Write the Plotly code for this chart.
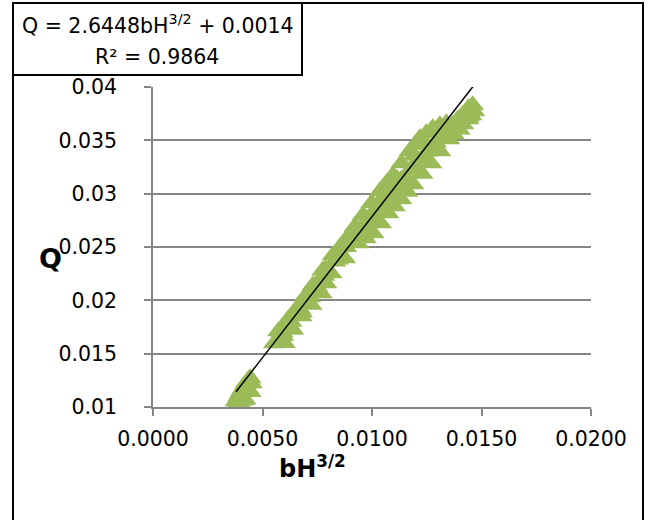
import plotly.graph_objects as go

# ---- data ----
bH32 = [
    # lower cluster
    0.00379, 0.00392, 0.00405, 0.00418, 0.00430, 0.00444, 0.00449, 0.00444, 0.00420, 0.00400,
    0.00386, 0.00398, 0.00411, 0.00424, 0.00437, 0.00432, 0.00410, 0.00390,
    # upper edge of main band
    0.00554, 0.00573, 0.00658, 0.00731, 0.00822, 0.00886, 0.00959, 0.01037, 0.01096, 0.01173,
    0.01219, 0.01278, 0.01310, 0.01378, 0.01460,
    0.00615, 0.00695, 0.00775, 0.00855, 0.00922, 0.00998, 0.01066, 0.01135, 0.01196, 0.01248,
    0.01340, 0.01420,
    # just inside the upper edge
    0.00593, 0.00678, 0.00751, 0.00842, 0.00906, 0.00979, 0.01057, 0.01116, 0.01193, 0.01239,
    0.01298, 0.01330, 0.01398, 0.01440,
    # middle of band
    0.00630, 0.00715, 0.00780, 0.00880, 0.00950, 0.01015, 0.01080, 0.01135, 0.01210, 0.01290,
    0.01340, 0.01400,
    0.00590, 0.00672, 0.00748, 0.00830, 0.00915, 0.00982, 0.01048, 0.01108, 0.01172, 0.01250,
    0.01315, 0.01370, 0.01430,
    # just inside the lower edge
    0.00575, 0.00651, 0.00743, 0.00788, 0.00911, 0.00980, 0.01048, 0.01107, 0.01162, 0.01244,
    0.01326, 0.01367, 0.01413, 0.01440,
    0.00613, 0.00697, 0.00765, 0.00850, 0.00945, 0.01014, 0.01077, 0.01135, 0.01203, 0.01285,
    0.01347, 0.01390,
    # lower edge of band
    0.00600, 0.00676, 0.00768, 0.00813, 0.00936, 0.01005, 0.01073, 0.01132, 0.01187, 0.01269,
    0.01351, 0.01392, 0.01438, 0.01465,
    0.00638, 0.00722, 0.00790, 0.00875, 0.00970, 0.01039, 0.01102, 0.01160, 0.01228, 0.01310,
    0.01372, 0.01415, 0.01452,
]
Q = [
    0.01053, 0.01100, 0.01150, 0.01195, 0.01240, 0.01270, 0.01222, 0.01140, 0.01070, 0.01030,
    0.01070, 0.01125, 0.01172, 0.01218, 0.01255, 0.01170, 0.01060, 0.01040,
    0.01597, 0.01709, 0.01925, 0.02141, 0.02422, 0.02581, 0.02797, 0.03022, 0.03172, 0.03397,
    0.03519, 0.03613, 0.03641, 0.03641, 0.03828,
    0.01815, 0.02035, 0.02280, 0.02500, 0.02690, 0.02910, 0.03097, 0.03285, 0.03458, 0.03566,
    0.03660, 0.03730,
    0.01669, 0.01885, 0.02101, 0.02382, 0.02541, 0.02757, 0.02982, 0.03132, 0.03357, 0.03479,
    0.03573, 0.03601, 0.03601, 0.03720,
    0.01800, 0.02030, 0.02230, 0.02500, 0.02640, 0.02850, 0.02990, 0.03130, 0.03310, 0.03480,
    0.03560, 0.03700,
    0.01700, 0.01915, 0.02130, 0.02365, 0.02570, 0.02745, 0.02920, 0.03060, 0.03220, 0.03395,
    0.03520, 0.03630, 0.03760,
    0.01640, 0.01890, 0.02106, 0.02293, 0.02575, 0.02668, 0.02856, 0.02987, 0.03128, 0.03325,
    0.03550, 0.03643, 0.03737, 0.03800,
    0.01765, 0.01998, 0.02200, 0.02434, 0.02622, 0.02762, 0.02922, 0.03058, 0.03227, 0.03438,
    0.03596, 0.03690,
    0.01600, 0.01850, 0.02066, 0.02253, 0.02535, 0.02628, 0.02816, 0.02947, 0.03088, 0.03285,
    0.03510, 0.03603, 0.03697, 0.03772,
    0.01725, 0.01958, 0.02160, 0.02394, 0.02582, 0.02722, 0.02882, 0.03018, 0.03187, 0.03398,
    0.03556, 0.03650, 0.03735,
]

trend_slope = 2.6448
trend_intercept = 0.0014
equation_text = "Q = 2.6448bH<sup>3/2</sup> + 0.0014"
r2_text = "R² = 0.9864"
x_title = "<b>bH<sup>3/2</sup></b>"
y_title = "<b>Q</b>"

x_ticks = [0.0, 0.005, 0.010, 0.015, 0.020]
y_ticks = [0.01, 0.015, 0.02, 0.025, 0.03, 0.035, 0.04]
y_ticktext = ["0.01", "0.015", "0.02", "0.025", "0.03", "0.035", "0.04"]

# ---- figure ----
GREEN = "#9BBB59"
GRID = "#868686"
FONT = "DejaVu Sans"
FS = 20.5

trend_x = [min(bH32), max(bH32)]
trend_y = [trend_slope * v + trend_intercept for v in trend_x]

fig = go.Figure()
fig.add_trace(go.Scatter(
    x=bH32, y=Q, mode="markers",
    marker=dict(symbol="triangle-up", size=20, color=GREEN, line=dict(width=0)),
    showlegend=False, hoverinfo="x+y",
))
fig.add_trace(go.Scatter(
    x=trend_x, y=trend_y, mode="lines",
    line=dict(color="black", width=1.5),
    showlegend=False, hoverinfo="skip",
))

# pixel -> paper helpers (plot area: x 153..591, y 87..407)
L, R, T, B = 153, 591, 87, 407
def px(xp):
    return (xp - L) / (R - L)
def py(yp):
    return (B - yp) / (B - T)

fig.update_layout(
    width=650, height=520,
    margin=dict(l=L, r=650 - R, t=T, b=520 - B),
    paper_bgcolor="white", plot_bgcolor="white",
    font=dict(family=FONT, size=FS, color="black"),
    xaxis=dict(
        range=[0, 0.02], tickvals=x_ticks, tickformat=".4f",
        showgrid=False, zeroline=False,
        showline=True, linecolor=GRID, linewidth=1.5,
        ticks="outside", ticklen=7, tickcolor=GRID, tickwidth=1.5,
        ticklabelstandoff=6,
        tickfont=dict(family=FONT, size=FS),
    ),
    yaxis=dict(
        range=[0.01, 0.04], tickvals=y_ticks, ticktext=y_ticktext,
        showgrid=True, gridcolor=GRID, gridwidth=1.5, zeroline=False,
        showline=True, linecolor=GRID, linewidth=1.5,
        ticks="outside", ticklen=7, tickcolor=GRID, tickwidth=1.5,
        ticklabelstandoff=23,
        tickfont=dict(family=FONT, size=FS),
    ),
    shapes=[
        # outer chart border
        dict(type="rect", xref="paper", yref="paper",
             x0=px(13), x1=px(643), y0=py(530), y1=py(3),
             line=dict(color="black", width=2), fillcolor="rgba(0,0,0,0)", layer="above"),
        # trendline label box
        dict(type="rect", xref="paper", yref="paper",
             x0=px(13), x1=px(302), y0=py(75), y1=py(3),
             line=dict(color="black", width=2), fillcolor="white", layer="above"),
    ],
    annotations=[
        dict(text=equation_text, xref="paper", yref="paper", x=px(157.5), y=py(24),
             xanchor="center", yanchor="middle", showarrow=False,
             font=dict(family=FONT, size=FS)),
        dict(text=r2_text, xref="paper", yref="paper", x=px(157), y=py(57),
             xanchor="center", yanchor="middle", showarrow=False,
             font=dict(family=FONT, size=FS)),
        dict(text=y_title, xref="paper", yref="paper", x=px(50), y=py(258),
             xanchor="center", yanchor="middle", showarrow=False,
             font=dict(family=FONT, size=27)),
        dict(text=x_title, xref="paper", yref="paper", x=px(312), y=py(467),
             xanchor="center", yanchor="middle", showarrow=False,
             font=dict(family=FONT, size=24)),
    ],
)

fig.write_html("out.html", config={"displayModeBar": False},
               post_script="document.body.style.margin='0px';")
